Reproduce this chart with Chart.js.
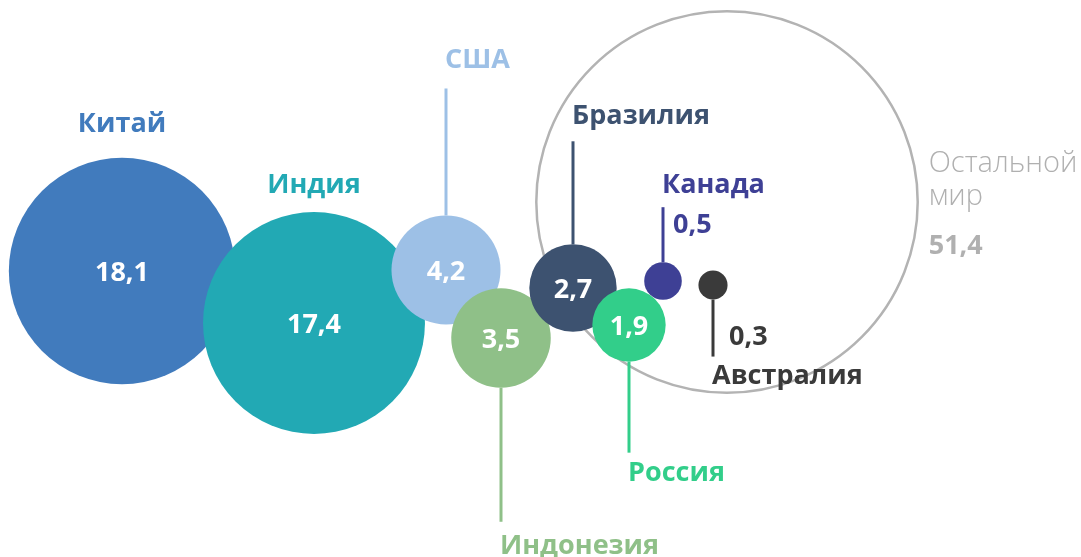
<!DOCTYPE html>
<html>
<head>
<meta charset="utf-8">
<script src="https://cdn.jsdelivr.net/npm/chart.js@4"></script>
<style>
  html, body { margin: 0; padding: 0; background: #fff; }
  #chart { display: block; }
</style>
</head>
<body>
<canvas id="chart" width="1081" height="557"></canvas>
<script>
// data
const COUNTRIES = ["Остальной мир", "Китай", "Индия", "США", "Индонезия", "Бразилия", "Россия", "Канада", "Австралия"];
const VALUES = [51.4, 18.1, 17.4, 4.2, 3.5, 2.7, 1.9, 0.5, 0.3];
// bubble centres on the hidden 0..1081 / 0..557 scales
const POS_X = [727, 122, 314, 446, 501, 573, 629, 663, 713];
const POS_Y = [202, 271, 323, 270, 338, 288, 325, 281, 285];

const COLORS = ["rgba(0,0,0,0)", "#417bbd", "#22a9b4", "#9dc0e6", "#8fc088", "#3d5270", "#32ce8a", "#3e4095", "#3a3a3a"];
const RING = "#b3b3b3";
const K = 26.6; // px per sqrt(value) -> area proportional

const FONT = "'Open Sans', 'DejaVu Sans', sans-serif";

// how each label sits around its bubble
// above: centred label above circle; up/down: leader line + left aligned label
const LABELS = [
  { mode: "rest" },
  { mode: "above", gap: 34, inside: true },
  { mode: "above", gap: 27, inside: true },
  { mode: "up", line: 127, gap: 28, inside: true },
  { mode: "down", line: 134, gap: 25, inside: true },
  { mode: "up", line: 103, gap: 25, inside: true },
  { mode: "down", line: 91, gap: 21, inside: true },
  { mode: "up", line: 55, gap: 22, valueDy: 18 },
  { mode: "down", line: 57, gap: 20, valueDy: -19 },
];

const fmt = v => v.toFixed(1).replace(".", ",");

const labelPlugin = {
  id: "bubbleLabels",
  afterDatasetsDraw(chart) {
    const ctx = chart.ctx;
    const meta = chart.getDatasetMeta(0);
    ctx.save();
    ctx.textBaseline = "middle";
    meta.data.forEach((el, i) => {
      const r = el.options.radius;
      const x = el.x, y = el.y;
      const L = LABELS[i];
      const col = COLORS[i];
      const val = fmt(VALUES[i]);

      if (L.mode === "rest") {
        const tx = x + r + 11;
        ctx.textAlign = "left";
        ctx.fillStyle = "#b0b0b0";
        ctx.font = "300 29px " + FONT;
        ctx.fillText("Остальной", tx, y - 38);
        ctx.fillText("мир", tx, y - 5);
        ctx.font = "700 27px " + FONT;
        ctx.fillText(val, tx, y + 44);
        return;
      }

      if (L.inside) {
        ctx.textAlign = "center";
        ctx.fillStyle = "#fff";
        ctx.font = "700 27px " + FONT;
        ctx.fillText(val, x, y + 2);
      }

      ctx.font = "700 27px " + FONT;
      if (L.mode === "above") {
        ctx.textAlign = "center";
        ctx.fillStyle = col;
        ctx.fillText(COUNTRIES[i], x, y - r - L.gap);
        return;
      }

      const sign = L.mode === "up" ? -1 : 1;
      const y0 = y + sign * r;
      const y1 = y0 + sign * L.line;
      ctx.strokeStyle = col;
      ctx.lineWidth = 3;
      ctx.beginPath();
      ctx.moveTo(x, y0);
      ctx.lineTo(x, y1);
      ctx.stroke();

      ctx.textAlign = "left";
      ctx.fillStyle = col;
      ctx.fillText(COUNTRIES[i], x - 1, y1 + sign * L.gap);

      if (!L.inside) {
        const vx = L.mode === "up" ? x + 10 : x + 16;
        ctx.fillText(val, vx, y1 + L.valueDy);
      }
    });
    ctx.restore();
  }
};

new Chart(document.getElementById("chart"), {
  type: "bubble",
  data: {
    datasets: [{
      data: VALUES.map((v, i) => ({ x: POS_X[i], y: POS_Y[i], r: K * Math.sqrt(v) })),
      backgroundColor: COLORS,
      borderColor: COLORS.map((c, i) => i === 0 ? RING : c),
      borderWidth: COLORS.map((c, i) => i === 0 ? 2.5 : 0),
      hoverRadius: 0,
      clip: false,
    }],
  },
  options: {
    responsive: false,
    animation: false,
    devicePixelRatio: 1,
    layout: { padding: 0, autoPadding: false },
    events: [],
    plugins: { legend: { display: false }, tooltip: { enabled: false } },
    scales: {
      x: { type: "linear", min: 0, max: 1081, display: false },
      y: { type: "linear", min: 0, max: 557, reverse: true, display: false },
    },
  },
  plugins: [labelPlugin],
});
</script>
</body>
</html>
